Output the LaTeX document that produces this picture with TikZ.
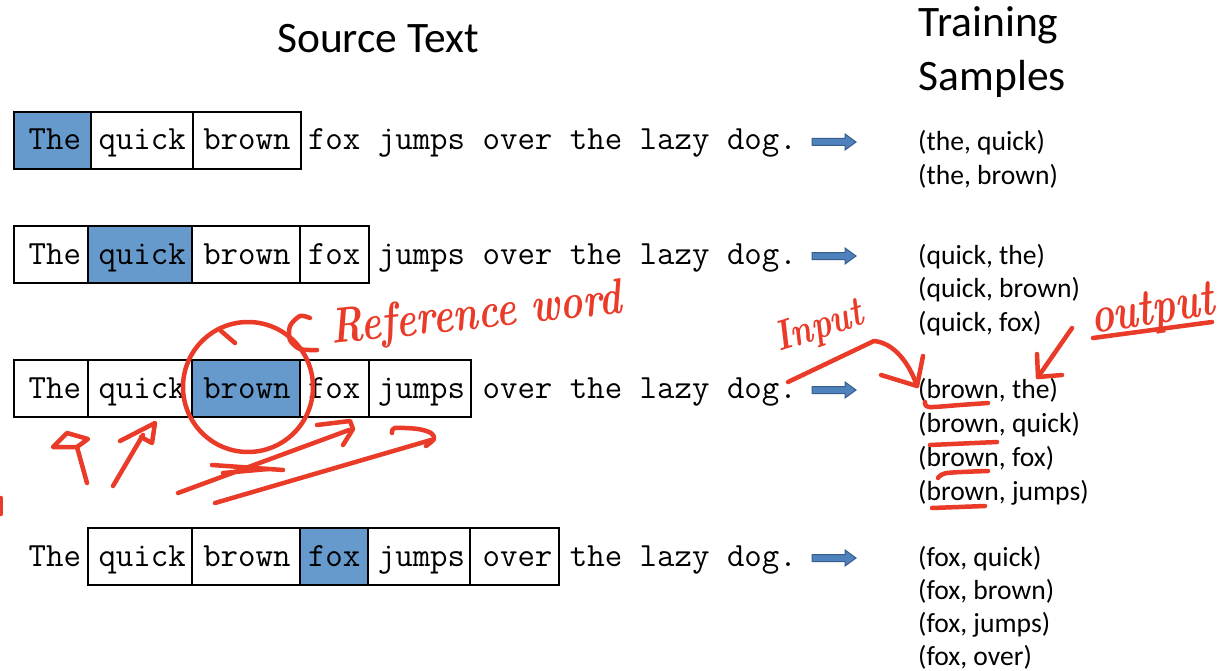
\documentclass[tikz,border=0pt]{standalone}
\usepackage{fontspec}
\newfontfamily\calibrifont{Carlito}
\usetikzlibrary{calc}

\definecolor{hlblue}{RGB}{102,153,204}
\definecolor{arrowfill}{RGB}{79,129,189}
\definecolor{arrowedge}{RGB}{56,93,138}
\definecolor{penred}{RGB}{234,58,40}

% one boxed word of a sentence: name, left x, right x, centre y, extra style
\newcommand\wordcell[5]{%
  \node[cellbox,#5,minimum width={#3-#2}] (#1) at ({(#2+#3)/2},#4) {};}
% block arrow pointing right, starting at a named coordinate
\newcommand\blockarrow[1]{%
  \draw[blockarrow,shift={(#1)}] (0,-3.5) -- (33,-3.5) -- (33,-8) -- (44,0)
    -- (33,8) -- (33,3.5) -- (0,3.5) -- cycle;}

\begin{document}
\begin{tikzpicture}[x=1pt,y=-1pt,
  cellbox/.style={draw=black,line width=2,inner sep=0,minimum height=57},
  keyword/.style={fill=hlblue},
  plainword/.style={fill=white},
  sentence/.style={inner sep=0,anchor=base west,font=\fontsize{33.9}{40}\selectfont\ttfamily},
  heading/.style={inner sep=0,anchor=base west,font=\fontsize{43.5}{53}\selectfont\calibrifont},
  pairs/.style={inner sep=0,anchor=base west,font=\fontsize{27.6}{33}\selectfont\calibrifont},
  blockarrow/.style={fill=arrowfill,draw=arrowedge,line width=1},
  ink/.style={draw=penred,line width=4.5,line cap=round,line join=round},
  handtext/.style={text=penred,inner sep=0,anchor=base west}
]
\useasboundingbox[fill=white] (0,0) rectangle (1220,671);

% ---------- headings ----------
\node[heading] (srctitle) at (277,52.7) {Source Text};
\node[heading] (traintitleA) at (918.5,37) {Training};
\node[heading] (traintitleB) at (918.5,90.5) {Samples};

% ---------- row 1: centre word "The" ----------
\wordcell{r1the}{14}{91}{140.5}{keyword}
\wordcell{r1quick}{91}{192.5}{140.5}{plainword}
\wordcell{r1brown}{192.5}{301}{140.5}{plainword}
\node[sentence] (s1) at (28.5,150) {The quick brown fox jumps over the lazy dog.};

% ---------- row 2: centre word "quick" ----------
\wordcell{r2the}{14}{88}{254.5}{plainword}
\wordcell{r2quick}{88}{192}{254.5}{keyword}
\wordcell{r2brown}{192}{300}{254.5}{plainword}
\wordcell{r2fox}{300}{369}{254.5}{plainword}
\node[sentence] (s2) at (28.5,264) {The quick brown fox jumps over the lazy dog.};

% ---------- row 3: centre word "brown" ----------
\wordcell{r3the}{14}{88}{388.5}{plainword}
\wordcell{r3quick}{88}{192}{388.5}{plainword}
\wordcell{r3brown}{192}{300}{388.5}{keyword}
\wordcell{r3fox}{300}{369}{388.5}{plainword}
\wordcell{r3jumps}{369}{471}{388.5}{plainword}
\node[sentence] (s3) at (28.5,398) {The quick brown fox jumps over the lazy dog.};

% ---------- row 4: centre word "fox" ----------
\wordcell{r4quick}{88}{192}{556.5}{plainword}
\wordcell{r4brown}{192}{300}{556.5}{plainword}
\wordcell{r4fox}{300}{368}{556.5}{keyword}
\wordcell{r4jumps}{368}{470}{556.5}{plainword}
\wordcell{r4over}{470}{559}{556.5}{plainword}
\node[sentence] (s4) at (28.5,566) {The quick brown fox jumps over the lazy dog.};

% ---------- arrows to the sample lists ----------
\coordinate (a1) at (812,142);
\coordinate (a2) at (812,256);
\coordinate (a3) at (812,390);
\coordinate (a4) at (812,558);
\blockarrow{a1}
\blockarrow{a2}
\blockarrow{a3}
\blockarrow{a4}

% ---------- training pairs ----------
\node[pairs] (p1a) at (918,151) {(the, quick)};
\node[pairs] (p1b) at (918,185) {(the, brown)};

\node[pairs] (p2a) at (918,264) {(quick, the)};
\node[pairs] (p2b) at (918,297.5) {(quick, brown)};
\node[pairs] (p2c) at (918,331) {(quick, fox)};

\node[pairs] (p3a) at (918,398.5) {(brown, the)};
\node[pairs] (p3b) at (918,432) {(brown, quick)};
\node[pairs] (p3c) at (918,466) {(brown, fox)};
\node[pairs] (p3d) at (918,500) {(brown, jumps)};

\node[pairs] (p4a) at (918,566) {(fox, quick)};
\node[pairs] (p4b) at (918,599.5) {(fox, brown)};
\node[pairs] (p4c) at (918,632.5) {(fox, jumps)};
\node[pairs] (p4d) at (918,665) {(fox, over)};

% ---------- pen notes ----------
% circle round the reference word
\node[ink,circle,minimum size=130,inner sep=0] (refring) at (248,387) {};
\draw[ink] (235,343) -- (221,331);
% bracket and label
\draw[ink] plot[smooth] coordinates {(317,350) (300,349) (290,340) (290,326) (300,316) (310,318)};
\node[handtext,rotate=6,xscale=0.76,font=\fontsize{50}{56}\selectfont\bfseries\itshape] (refword) at (332,344) {Reference word};

% hand arrows to the context words
\draw[ink] (87,483) -- (77,447);
\draw[ink] (77,447) -- (53,447) -- (67,433) -- (88,439) -- cycle;
\draw[ink] (113,486) -- (143,435);
\draw[ink] (120,441) -- (155,423) -- (152,443) -- (141,437);
\draw[ink] (178,493) -- (349,430);
\draw[ink] (317,425) -- (350,421) -- (353,429) -- (343,445);
\draw[ink] (212,465) -- (283,470);
\draw[ink] (223,473) -- (268,469);
\draw[ink] (215,503) -- (431,440);
\draw[ink] plot[smooth] coordinates {(392,433) (395,428) (418,429) (431,433) (434,439) (426,446)};
\draw[ink] (1,498) -- (1,514);

% input / output notes
\node[handtext,rotate=18,xscale=0.8,font=\fontsize{42}{48}\selectfont\bfseries\itshape] (inputword) at (779,352) {Input};
\draw[ink] (788,382) -- (874,341) .. controls (895,343) and (910,365) .. (917,386);
\draw[ink] (923,356) -- (917,386) -- (881,375);
\node[handtext,rotate=9,xscale=0.75,font=\fontsize{52}{58}\selectfont\bfseries\itshape] (outputword) at (1093,334) {output};
\draw[ink] (1093,338) -- (1212,322);
\draw[ink] (1072,328) -- (1038,377);
\draw[ink] (1037,354) -- (1038,377) -- (1062,375);

% underlines of the input word
\draw[ink] plot[smooth] coordinates {(925,402) (929,407) (960,405) (988,403)};
\draw[ink] (930,445) -- (997,442);
\draw[ink] plot[smooth] coordinates {(938,478) (947,473) (988,471)};
\draw[ink] (932,508) -- (985,506);
\end{tikzpicture}
\end{document}
